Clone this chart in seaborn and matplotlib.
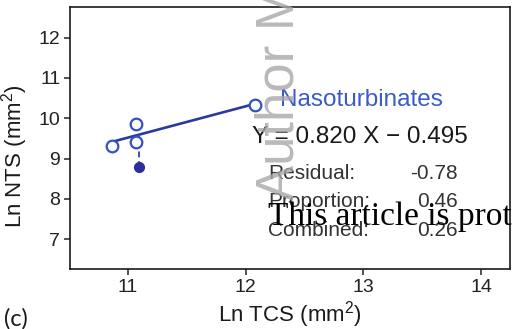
import numpy as np
import matplotlib
matplotlib.use("Agg")
import matplotlib.pyplot as plt
import seaborn as sns

# -----------------------------
# Data
# -----------------------------
open_x = [10.86, 11.07, 11.07, 12.08]
open_y = [9.32, 9.85, 9.41, 10.34]
filled_x = [11.09]
filled_y = [8.79]

group_name = "Nasoturbinates"
equation = "Y = 0.820 X \u2212 0.495"
stat_labels = ["Residual:", "Proportion:", "Combined:"]
stat_values = ["-0.78", "0.46", "0.26"]

x_ticks = [11, 12, 13, 14]
y_ticks = [7, 8, 9, 10, 11, 12]

# -----------------------------
# Style
# -----------------------------
sns.set_style("ticks")
plt.rcParams['font.family'] = ['Liberation Sans', 'DejaVu Sans']
plt.rcParams['mathtext.fontset'] = 'custom'
plt.rcParams['mathtext.rm'] = 'Liberation Sans'

line_blue = "#2b3a9e"
mark_blue = "#3550c0"
text_blue = "#3b5bc6"

fig = plt.figure(figsize=(5.15, 3.29), dpi=100)
ax = fig.add_axes([70 / 515, 1 - 269 / 329, 440 / 515, 262 / 329])

# regression line through the open points
sns.regplot(x=open_x, y=open_y, ax=ax, scatter=False, ci=None,
            color=line_blue, line_kws={"linewidth": 1.9})

# residual drop line to the filled point
slope, intercept = np.polyfit(open_x, open_y, 1)
ax.vlines(filled_x, filled_y, [slope * filled_x[0] + intercept],
          colors=mark_blue, linewidth=1.4, linestyles=(0, (3, 2)), zorder=2)

sns.scatterplot(x=open_x, y=open_y, ax=ax, s=70, marker="o",
                facecolor="white", edgecolor=mark_blue, linewidth=1.6, zorder=3)
sns.scatterplot(x=filled_x, y=filled_y, ax=ax, s=65, marker="o",
                color="#2e2f9a", edgecolor="#2e2f9a", linewidth=0, zorder=3)

# -----------------------------
# Annotations
# -----------------------------
ax.text(12.29, 10.45, group_name, color=text_blue, fontsize=17.5, va="center")
ax.text(12.05, 9.53, equation, color="#1a1a1a", fontsize=17.5, va="center")
for i, (lab, val) in enumerate(zip(stat_labels, stat_values)):
    yy = 8.64 - i * 0.71
    ax.text(12.19, yy, lab, color="#333333", fontsize=15, va="center")
    ax.text(13.80, yy, val, color="#333333", fontsize=15, va="center", ha="right")

# -----------------------------
# Axes
# -----------------------------
ax.set_xlim(10.507, 14.246)
ax.set_ylim(6.26, 12.76)
ax.set_xticks(x_ticks)
ax.set_yticks(y_ticks)
ax.tick_params(labelsize=14, length=4, width=1.1, color="#222222",
               labelcolor="#222222", pad=3)
for sp in ax.spines.values():
    sp.set_visible(True)
    sp.set_linewidth(1.2)
    sp.set_color("#1a1a1a")

ax.set_xlabel(r"Ln TCS (mm$^2$)", fontsize=16, color="#1a1a1a")
ax.set_ylabel(r"Ln NTS (mm$^2$)", fontsize=16, color="#1a1a1a")
ax.xaxis.set_label_coords(0.5, -0.115)
ax.yaxis.set_label_coords(-0.09, 0.43)

fig.text(0.008, 0.03, "(c)", fontsize=17, family=["Lato", "DejaVu Sans"],
         va="center", color="#1a1a1a")

# watermarks
fig.text(305 / 515, 1 - 200 / 329, "Author M", rotation=90, fontsize=38,
         color="#a8a8a8", alpha=0.8, ha="right", va="bottom")
fig.text(268 / 515, 1 - 225 / 329, "This article is prot", fontsize=24,
         family=["Liberation Serif", "DejaVu Serif"], color="black",
         va="baseline")

fig.savefig("out.png", dpi=100)
plt.close()
